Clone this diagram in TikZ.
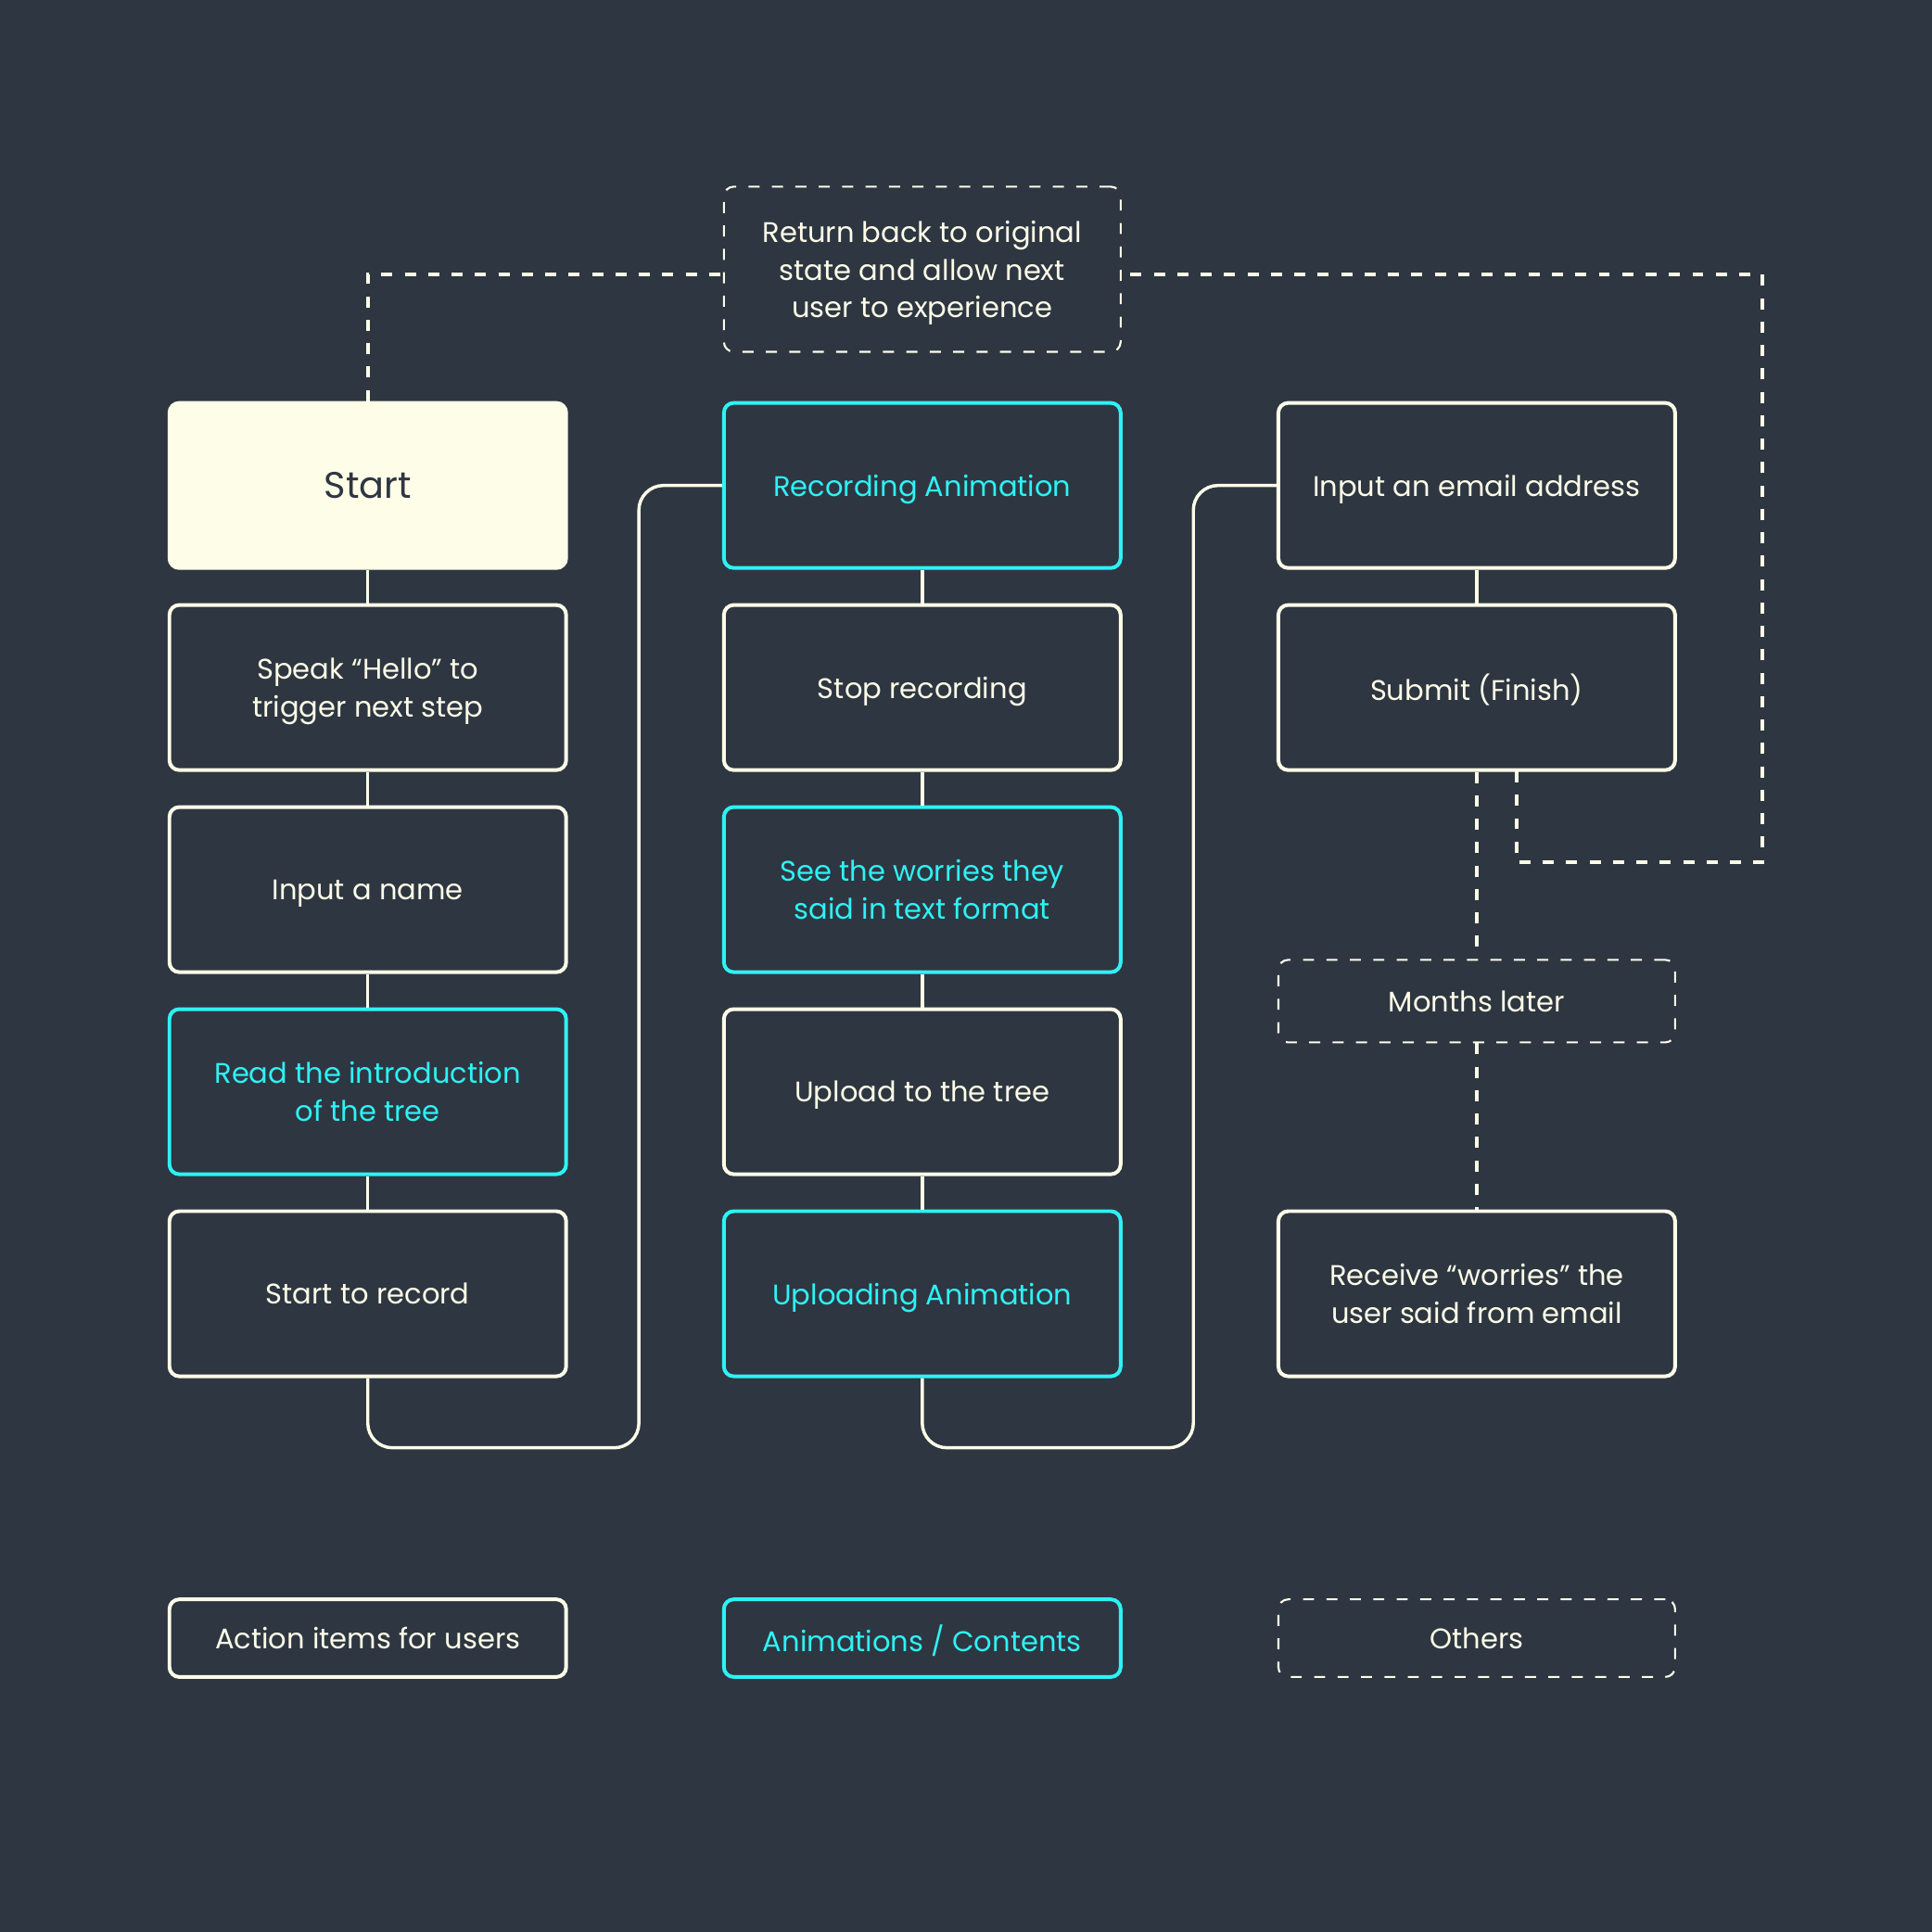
\documentclass[tikz,border=0pt]{standalone}
\usepackage{fontspec}
\setmainfont{Poppins}
\definecolor{bg}{HTML}{2E3641}
\definecolor{cream}{HTML}{FDFDE8}
\definecolor{cyanc}{HTML}{2EF2F5}
\begin{document}
\begin{tikzpicture}[x=1pt,y=-1pt,
  txt/.style={font=\fontsize{23}{30.5}\selectfont, align=center, inner sep=0pt, text depth=0pt},
  box/.style={txt, draw=cream, line width=3pt, rounded corners=8pt, minimum width=322pt, minimum height=134pt, text=cream},
  anim/.style={box, draw=cyanc, text=cyanc},
  startbox/.style={box, fill=cream, text=bg, font=\fontsize{30}{36}\selectfont},
  other/.style={txt, draw=cream, line width=1.6pt, dash pattern=on 9pt off 10pt, rounded corners=8pt, minimum width=322pt, minimum height=134pt, text=cream},
  conn/.style={draw=cream, line width=2.6pt},
  dconn/.style={draw=cream, line width=3pt, dash pattern=on 9pt off 10pt},
  legend/.style={minimum height=63pt}
]
\fill[bg] (0,0) rectangle (1568,1568);
\useasboundingbox (0,0) rectangle (1568,1568);

% column 1
\node[startbox] (start) at (298.5,394) {Start};
\node[box] (speak) at (298.5,558) {Speak “Hello” to\\trigger next step};
\node[box] (name) at (298.5,722) {Input a name};
\node[anim] (intro) at (298.5,886) {Read the introduction\\of the tree};
\node[box] (rec) at (298.5,1050) {Start to record};

% column 2
\node[other] (ret) at (748.5,218.5) {Return back to original\\state and allow next\\user to experience};
\node[anim] (recanim) at (748.5,394) {Recording Animation};
\node[box] (stop) at (748.5,558) {Stop recording};
\node[anim] (see) at (748.5,722) {See the worries they\\said in text format};
\node[box] (upload) at (748.5,886) {Upload to the tree};
\node[anim] (upanim) at (748.5,1050) {Uploading Animation};

% column 3
\node[box] (email) at (1198.5,394) {Input an email address};
\node[box] (submit) at (1198.5,558) {Submit (Finish)};
\node[other, minimum height=67pt] (months) at (1198.5,812.5) {Months later};
\node[box] (receive) at (1198.5,1050) {Receive “worries” the\\user said from email};

% legend
\node[box, legend] (lg1) at (298.5,1329.5) {Action items for users};
\node[anim, legend] (lg2) at (748.5,1329.5) {Animations / Contents};
\node[other, legend] (lg3) at (1198.5,1329.5) {Others};

% solid vertical connectors
\draw[conn] (start.south) -- (speak.north);
\draw[conn] (speak.south) -- (name.north);
\draw[conn] (name.south) -- (intro.north);
\draw[conn] (intro.south) -- (rec.north);
\draw[conn] (recanim.south) -- (stop.north);
\draw[conn] (stop.south) -- (see.north);
\draw[conn] (see.south) -- (upload.north);
\draw[conn] (upload.south) -- (upanim.north);
\draw[conn] (email.south) -- (submit.north);

% loop connectors
\coordinate (a1) at (298.5,1175);
\coordinate (a2) at (518.5,1175);
\coordinate (a3) at (518.5,394);
\draw[conn, rounded corners=20pt] (rec.south) -- (a1) -- (a2) -- (a3) -- (recanim.west);
\coordinate (b1) at (748.5,1175);
\coordinate (b2) at (968.5,1175);
\coordinate (b3) at (968.5,394);
\draw[conn, rounded corners=20pt] (upanim.south) -- (b1) -- (b2) -- (b3) -- (email.west);

% dashed connectors
\coordinate (c1) at (298.5,222.5);
\draw[dconn] (start.north) -- (c1) -- (ret.west |- c1);
\coordinate (d0) at (1231,626);
\coordinate (d1) at (1231,700);
\coordinate (d2) at (1430,700);
\coordinate (d3) at (1430,222.5);
\draw[dconn] (d0) -- (d1) -- (d2) -- (d3) -- (ret.east |- d3);
\draw[dconn] (submit.south) -- (months.north);
\draw[dconn] (months.south) -- (receive.north);
\end{tikzpicture}
\end{document}
